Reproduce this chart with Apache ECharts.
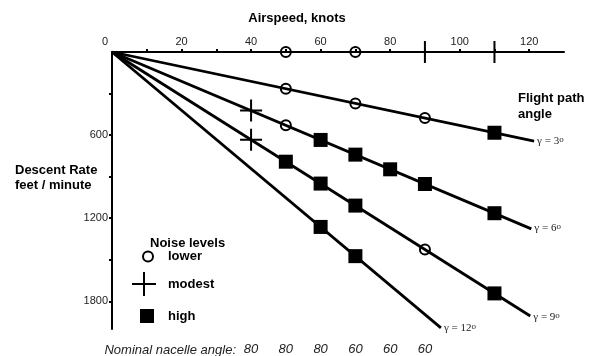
<!DOCTYPE html>
<html>
<head>
<meta charset="utf-8">
<script src="https://cdn.jsdelivr.net/npm/echarts@6/dist/echarts.min.js"></script>
<style>
  html, body { margin: 0; padding: 0; background: #fff; }
  #chart { width: 594px; height: 356px; }
</style>
</head>
<body>
<div id="chart"></div>
<script>
// flight path angles and where each line stops (knots, ft/min)
var gammas = [3, 6, 9, 12];
var lineEndSpeed = [121.4, 120.6, 120.3, 94.6];
var lineEndRate = [643, 1277, 1906, 1992];

// noise level points: airspeed (knots) and descent rate (ft/min)
var lowerSpeed = [50, 70, 50, 70, 90, 50, 90];
var lowerRate = [0, 0, 265, 371, 477, 529, 1426];
var modestSpeed = [90, 110, 40, 40];
var modestRate = [0, 0, 423, 634];
var highSpeed = [110, 60, 70, 80, 90, 110, 50, 60, 70, 110, 60, 70];
var highRate = [583, 635, 741, 847, 953, 1164, 792, 950, 1109, 1743, 1263, 1474];

// axes
var xTicks = [10, 20, 30, 40, 50, 60, 70, 80, 90, 100, 110, 120];
var xTickLabels = [0, 20, 40, 60, 80, 100, 120];
var yTicks = [300, 600, 900, 1200, 1500, 1800];
var yTickLabels = [600, 1200, 1800];

// nominal nacelle angle under each airspeed
var nacelleSpeeds = [40, 50, 60, 70, 80, 90];
var nacelleAngles = [80, 80, 80, 60, 60, 60];

var FONT = 'Liberation Sans';
var SERIF = 'Liberation Serif';
var PLUS = 'path://M0,12H24M12,0V24';
var SQUARE = 'path://M0,0H14V14H0Z';

function zip(xs, ys) {
    return xs.map(function (x, i) { return [x, ys[i]]; });
}

var myChart = echarts.init(document.getElementById('chart'));

var labelOffsets = [[0, 0], [0, -1], [0, 1], [0, 0]];

var lineSeries = gammas.map(function (g, i) {
    return {
        type: 'line',
        name: 'gamma' + g,
        data: [[0, 0], [lineEndSpeed[i], lineEndRate[i]]],
        symbol: 'none',
        silent: true,
        lineStyle: { color: '#000', width: 2.8 },
        endLabel: {
            show: true,
            distance: 3,
            offset: labelOffsets[i],
            formatter: '{a|\u03b3 = ' + g + '}{s|o}',
            rich: {
                a: { fontFamily: SERIF, fontSize: 11, color: '#222' },
                s: { fontFamily: SERIF, fontSize: 9, color: '#222', verticalAlign: 'top', padding: [0, 0, 3, 0] }
            }
        }
    };
});

var boldText = { fontFamily: FONT, fontSize: 13, fontWeight: 'bold', color: '#000' };

var option = {
    animation: false,
    backgroundColor: '#fff',
    title: [
        { text: 'Airspeed, knots', left: 'center', top: 12, padding: 0, textStyle: boldText },
        { text: 'Descent Rate\nfeet / minute', left: 15, top: 163, padding: 0,
          textStyle: Object.assign({ lineHeight: 15 }, boldText) },
        { text: 'Flight path\nangle', left: 518, top: 90, padding: 0,
          textStyle: Object.assign({ lineHeight: 16 }, boldText) },
        { text: 'Noise levels', left: 150, top: 237, padding: 0, textStyle: boldText },
        { text: 'Nominal nacelle angle:', right: 358, top: 344, padding: 0,
          textStyle: { fontFamily: FONT, fontSize: 13, fontStyle: 'italic', fontWeight: 'normal', color: '#222' } }
    ],
    legend: [
        { data: [{ name: 'lower', icon: 'circle', itemStyle: { color: '#fff', borderColor: '#000', borderWidth: 2 } }],
          left: 142, top: 250, itemWidth: 30, itemHeight: 10, selectedMode: false, padding: 0,
          textStyle: boldText },
        { data: [{ name: 'modest', icon: PLUS, itemStyle: { color: '#000', borderColor: '#000', borderWidth: 2 } }],
          left: 131, top: 271, itemWidth: 38, itemHeight: 24, selectedMode: false, padding: 0,
          textStyle: boldText },
        { data: [{ name: 'high', icon: SQUARE, itemStyle: { color: '#000', borderWidth: 0 } }],
          left: 140, top: 309, itemWidth: 32, itemHeight: 14, selectedMode: false, padding: 0,
          textStyle: boldText }
    ],
    grid: { left: 112, right: 30, top: 52, bottom: 26 },
    xAxis: [
        {
            type: 'value', position: 'top', min: 0, max: 130,
            splitLine: { show: false },
            axisLine: { lineStyle: { color: '#000', width: 2 } },
            axisTick: { length: 3, lineStyle: { color: '#000', width: 2 }, customValues: xTicks },
            axisLabel: {
                customValues: xTickLabels, margin: 5, fontFamily: FONT, fontSize: 11, color: '#222',
                formatter: function (v) { return v === 0 ? '{z|0}' : String(v); },
                rich: { z: { fontFamily: FONT, fontSize: 11, color: '#222', padding: [0, 14, 0, 0] } }
            }
        },
        {
            type: 'value', position: 'bottom', min: 0, max: 130,
            splitLine: { show: false },
            axisLine: { show: false },
            axisTick: { show: false },
            axisLabel: {
                customValues: nacelleSpeeds, margin: 14,
                fontFamily: FONT, fontSize: 13, fontStyle: 'italic', color: '#222',
                formatter: function (v) {
                    var k = nacelleSpeeds.indexOf(v);
                    return k < 0 ? '' : String(nacelleAngles[k]);
                }
            }
        }
    ],
    yAxis: {
        type: 'value', inverse: true, min: 0, max: 2000,
        splitLine: { show: false },
        axisLine: { lineStyle: { color: '#000', width: 2 } },
        axisTick: { length: 3, lineStyle: { color: '#000', width: 2 }, customValues: yTicks },
        axisLabel: {
            customValues: yTickLabels, margin: 4, fontFamily: FONT, fontSize: 11, color: '#222',
            formatter: function (v) { return String(v); }
        }
    },
    series: lineSeries.concat([
        {
            type: 'scatter', name: 'lower', symbol: 'circle', symbolSize: 10,
            itemStyle: { color: '#fff', borderColor: '#000', borderWidth: 2, opacity: 1 },
            data: zip(lowerSpeed, lowerRate).map(function (p) {
                // circles sitting on the airspeed axis let the axis show through
                return p[1] === 0 ? { value: p, itemStyle: { color: 'rgba(0,0,0,0)' } } : p;
            })
        },
        {
            type: 'scatter', name: 'modest', symbol: PLUS, symbolSize: 22,
            itemStyle: { color: '#000', borderColor: '#000', borderWidth: 2, opacity: 1 },
            data: zip(modestSpeed, modestRate)
        },
        {
            type: 'scatter', name: 'high', symbol: 'rect', symbolSize: 14,
            itemStyle: { color: '#000', borderWidth: 0, opacity: 1 },
            data: zip(highSpeed, highRate)
        }
    ])
};

myChart.setOption(option);
</script>
</body>
</html>
